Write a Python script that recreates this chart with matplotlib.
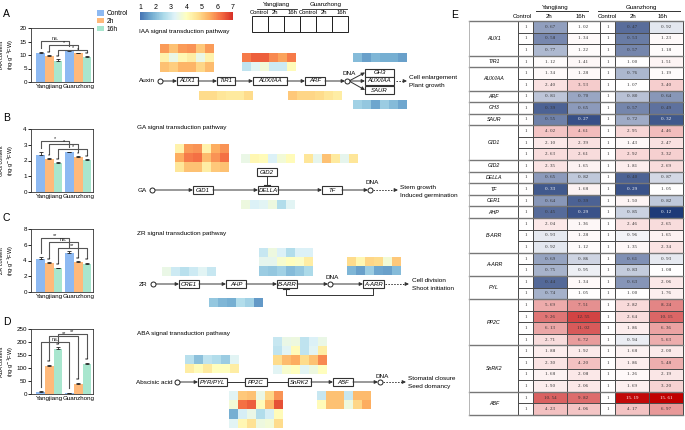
import numpy as np
import matplotlib.pyplot as plt
from matplotlib.colors import LinearSegmentedColormap, TwoSlopeNorm, Normalize
from matplotlib.patches import Rectangle
import matplotlib.cm as cm

plt.rcParams['font.family'] = ['Liberation Sans', 'DejaVu Sans']

# ---------------- bar chart data (A-D) ----------------
groups = ['Yangjiang', 'Guanzhong']
treat = ['Control', '2h', '16h']
iaa_vals = [10.8, 9.5, 7.9, 11.4, 10.6, 9.3]
iaa_err = [0.3, 0.4, 0.6, 0.4, 0.3, 0.3]
ga_vals = [2.38, 2.08, 1.83, 2.53, 2.24, 2.03]
ga_err = [0.15, 0.08, 0.08, 0.04, 0.04, 0.06]
zr_vals = [4.25, 3.7, 3.0, 4.95, 3.8, 3.6]
zr_err = [0.2, 0.1, 0.1, 0.25, 0.12, 0.12]
aba_vals = [8, 107, 175, 4, 40, 115]
aba_err = [2, 6, 4, 1, 3, 5]
iaa_stars = ['', '**', '**', '', '*', '**']
ga_stars = ['', '*', '**', '', '*', '**']
zr_stars = ['', '**', '**', '', '**', '**']
aba_stars = ['', '**', '**', '', '**', '**']
# brackets: (bar i, bar j, height, label)
iaa_brk = [(0, 3, 15.3, 'ns.'), (1, 4, 13.7, '*'), (2, 5, 12.0, '*')]
ga_brk = [(0, 3, 3.25, '*'), (1, 4, 3.03, '*'), (2, 5, 2.75, '*')]
zr_brk = [(0, 3, 6.8, '**'), (1, 4, 6.3, 'ns.'), (2, 5, 5.6, '**')]
aba_brk = [(0, 3, 200, 'ns.'), (1, 4, 222, '**'), (2, 5, 232, '**')]

# ---------------- pathway heatmap data (scale 1-7) ----------------
hm_aux1 = [[5.7, 5.2, 5.7, 5.8, 5.1, 5.7], [4.3, 3.5, 4.2, 4.4, 3.5, 4.3], [5.2, 5.0, 5.4, 5.4, 4.9, 5.3]]
hm_tir1 = [[4.8, 4.8, 4.6, 4.5, 4.5, 4.8]]
hm_auxiaa = [[6.1, 6.4, 6.4, 5.9, 5.6, 6.1], [2.8, 3.3, 3.7, 3.0, 3.0, 4.1]]
hm_arf = [[5.1, 4.9, 4.9, 4.8, 4.6, 4.4]]
hm_gh3 = [[2.0, 1.6, 1.9, 1.8, 1.8, 1.6]]
hm_saur = [[2.4, 2.2, 1.7, 2.3, 2.0, 1.7]]
hm_gid1 = [[4.3, 5.7, 5.8, 4.3, 5.5, 5.8], [5.5, 6.1, 6.2, 5.3, 5.8, 6.2], [4.6, 5.2, 5.2, 4.4, 5.1, 5.2]]
hm_gid2 = [[3.5, 4.2, 4.1, 3.2, 3.7, 4.1]]
hm_tf = [[4.6, 3.4, 5.2, 4.5, 3.4, 4.6]]
hm_della = [[3.6, 3.2, 3.3, 3.6, 2.6, 3.3]]
hm_cre1 = [[3.5, 3.0, 2.7, 3.0, 3.3, 2.9]]
hm_barr = [[2.9, 3.6, 3.2, 2.6, 3.2, 3.2], [3.4, 3.4, 3.8, 4.0, 3.9, 4.4], [2.3, 2.2, 2.4, 2.0, 2.2, 2.5]]
hm_aarr = [[4.8, 4.2, 4.9, 4.8, 3.7, 5.1], [1.9, 1.6, 2.3, 1.7, 1.6, 2.0]]
hm_ahp = [[2.2, 1.9, 1.8, 2.6, 2.4, 1.5]]
hm_pyl = [[2.7, 2.1, 2.8, 2.6, 2.3, 3.3], [4.4, 4.1, 4.5, 4.0, 4.0, 4.4]]
hm_snrk2 = [[2.9, 3.5, 3.6, 2.8, 3.2, 3.5], [2.8, 3.3, 4.1, 2.8, 3.3, 4.4],
            [4.8, 5.3, 5.5, 4.8, 5.2, 5.9], [3.3, 3.8, 4.0, 3.3, 3.6, 4.0]]
hm_pp2c = [[3.3, 5.1, 5.2, 3.5, 4.9, 5.8], [3.7, 6.2, 6.4, 4.1, 5.4, 6.6],
           [1.8, 3.1, 3.5, 2.6, 3.1, 4.1], [3.3, 4.2, 4.7, 3.6, 3.7, 4.8]]
hm_abf = [[2.9, 5.2, 5.2, 2.9, 5.3, 5.3], [4.1, 5.2, 5.2, 3.6, 4.9, 5.5]]

# ---------------- table data (E), fold change ----------------
t_aux1 = [[1, 0.67, 1.02, 1, 0.47, 0.92], [1, 0.58, 1.34, 1, 0.53, 1.23], [1, 0.77, 1.22, 1, 0.57, 1.18]]
t_tir1 = [[1, 1.12, 1.41, 1, 1.00, 1.51]]
t_auxiaa = [[1, 1.34, 1.28, 1, 0.76, 1.19], [1, 2.40, 3.53, 1, 1.07, 3.40]]
t_arf = [[1, 0.81, 0.70, 1, 0.80, 0.64]]
t_gh3 = [[1, 0.39, 0.65, 1, 0.57, 0.49]]
t_saur = [[1, 0.55, 0.27, 1, 0.72, 0.32]]
t_gid1 = [[1, 4.02, 4.61, 1, 2.95, 4.46], [1, 2.10, 2.39, 1, 1.43, 2.47], [1, 2.63, 2.61, 1, 2.92, 3.32]]
t_gid2 = [[1, 2.35, 1.65, 1, 1.81, 2.69]]
t_della = [[1, 0.65, 0.82, 1, 0.40, 0.87]]
t_tf = [[1, 0.33, 1.68, 1, 0.29, 1.05]]
t_cer1 = [[1, 0.64, 0.39, 1, 1.50, 0.82]]
t_ahp = [[1, 0.45, 0.29, 1, 0.85, 0.12]]
t_barr = [[1, 2.04, 1.36, 1, 2.46, 2.65], [1, 0.93, 1.28, 1, 0.96, 1.65], [1, 0.92, 1.12, 1, 1.35, 2.34]]
t_aarr = [[1, 0.69, 0.86, 1, 0.61, 0.93], [1, 0.75, 0.95, 1, 0.83, 1.08]]
t_pyl = [[1, 0.44, 1.34, 1, 0.63, 2.06], [1, 0.74, 1.05, 1, 1.00, 1.76]]
t_pp2c = [[1, 5.69, 7.51, 1, 2.82, 8.24], [1, 9.26, 12.55, 1, 2.64, 10.15],
          [1, 6.13, 11.02, 1, 1.86, 6.36], [1, 2.71, 6.72, 1, 0.94, 5.63]]
t_snrk2 = [[1, 1.88, 1.92, 1, 1.68, 2.00], [1, 2.30, 4.20, 1, 1.86, 5.48],
           [1, 1.68, 2.08, 1, 1.26, 2.19], [1, 1.90, 2.06, 1, 1.69, 3.20]]
t_abf = [[1, 10.54, 9.82, 1, 15.19, 15.61], [1, 4.23, 4.06, 1, 4.17, 6.97]]
table_genes = [('AUX1', t_aux1), ('TIR1', t_tir1), ('AUX/IAA', t_auxiaa), ('ARF', t_arf),
               ('GH3', t_gh3), ('SAUR', t_saur), ('GID1', t_gid1), ('GID2', t_gid2),
               ('DELLA', t_della), ('TF', t_tf), ('CER1', t_cer1), ('AHP', t_ahp),
               ('B-ARR', t_barr), ('A-ARR', t_aarr), ('PYL', t_pyl), ('PP2C', t_pp2c),
               ('SnRK2', t_snrk2), ('ABF', t_abf)]

W, H = 685, 430
fig = plt.figure(figsize=(6.85, 4.3), dpi=100)
bg = fig.add_axes([0, 0, 1, 1])
bg.set_xlim(0, W)
bg.set_ylim(H, 0)
bg.axis('off')

c_bars = ['#8DB9F2', '#FFB97A', '#A8E6CE']
base = plt.get_cmap('RdYlBu_r')
hcmap = LinearSegmentedColormap.from_list('hm', base(np.linspace(0.1, 0.9, 256)))


def px_axes(x0, y0, x1, y1):
    return fig.add_axes([x0 / W, 1 - y1 / H, (x1 - x0) / W, (y1 - y0) / H])


def bar_panel(box, vals, errs, ymax, step, ylab, stars, brks, legend=False):
    ax = px_axes(*box)
    pos = [0, 1, 2, 3.3, 4.3, 5.3]
    zero = [0] * 6
    bars = ax.bar(pos, vals, width=1, color=c_bars * 2, yerr=[zero, errs],
                  error_kw=dict(elinewidth=0.6, capsize=1.5, capthick=0.6, ecolor='#222'))
    for p, v, e, s in zip(pos, vals, errs, stars):
        if s:
            ax.text(p, v + e + ymax * 0.005, s, ha='center', va='bottom', fontsize=4, color='#222')
    for i, j, y, lab in brks:
        li = vals[i] + errs[i] + ymax * 0.07
        lj = vals[j] + errs[j] + ymax * 0.07
        ax.plot([pos[i], pos[i], pos[j], pos[j]], [li, y, y, lj], color='#555', lw=0.8)
        ax.text((pos[i] + pos[j]) / 2, y, lab, ha='center', va='bottom', fontsize=4, color='#222')
    ax.set_xlim(-1.1, 6.0)
    ax.set_ylim(0, ymax)
    ax.set_yticks(np.arange(0, ymax + step / 2, step))
    ax.set_xticks([1, 4.3])
    ax.set_xticklabels(groups)
    ax.tick_params(labelsize=4.5, length=2, width=0.6, pad=1)
    ax.tick_params(axis='x', length=0, pad=1.5)
    for sp in ax.spines.values():
        sp.set_linewidth(0.6)
        sp.set_color('#333')
    ax.set_ylabel(ylab, fontsize=4.0, linespacing=1.1)
    ax.yaxis.set_label_coords(-0.25, 0.5)
    if legend:
        ax.legend(bars[:3], treat, loc='upper left', bbox_to_anchor=(1.02, 1.38), frameon=False,
                  fontsize=4.8, handlelength=1.0, handleheight=0.9, labelspacing=0.1,
                  handletextpad=0.4, borderaxespad=0)
    return ax


bar_panel((31, 28, 93, 82), iaa_vals, iaa_err, 20, 5, 'IAA content\n(ng·g$^{-1}$FW)', iaa_stars, iaa_brk, True)
bar_panel((31, 129, 93, 192), ga_vals, ga_err, 4, 1, 'GA3 content\n(ng·g$^{-1}$FW)', ga_stars, ga_brk)
bar_panel((31, 229, 93, 292), zr_vals, zr_err, 8, 2, 'ZR content\n(ng·g$^{-1}$FW)', zr_stars, zr_brk)
bar_panel((31, 329, 93, 394), aba_vals, aba_err, 250, 50, 'ABA content\n(ng·g$^{-1}$FW)', aba_stars, aba_brk)

for lab, x, y in [('A', 3, 14), ('B', 3, 118), ('C', 3, 218), ('D', 3, 322), ('E', 451, 15)]:
    bg.text(x, y, lab, fontsize=7.5, ha='left', va='center')

# ---------------- colour bar + sample grid ----------------
cax = px_axes(140, 12, 233, 20)
cb = fig.colorbar(cm.ScalarMappable(norm=Normalize(1, 7), cmap=hcmap), cax=cax, orientation='horizontal')
cb.set_ticks(range(1, 8))
cb.outline.set_visible(False)
cax.xaxis.set_ticks_position('top')
cax.tick_params(labelsize=5, length=0, pad=1)

for k in range(6):
    bg.add_patch(Rectangle((252 + 16 * k, 16), 16, 16, fill=False, lw=0.7, ec='#222'))
bg.text(276, 4.5, 'Yangjiang', fontsize=4.5, ha='center', va='center')
bg.text(326, 4.5, 'Guanzhong', fontsize=4.5, ha='center', va='center')
bg.plot([257, 297], [8.5, 8.5], color='#222', lw=0.6)
bg.plot([302, 347], [8.5, 8.5], color='#222', lw=0.6)
for x, t in zip([259, 275, 292, 308, 324, 341], treat * 2):
    bg.text(x, 13, t, fontsize=4.2, ha='center', va='center')


# ---------------- pathway helpers ----------------
LC = '#333333'


def heat(x0, y0, data, cw=9, ch=9.2):
    d = np.array(data)
    nr, nc = d.shape
    bg.pcolormesh(x0 + cw * np.arange(nc + 1), y0 + ch * np.arange(nr + 1), d,
                  cmap=hcmap, vmin=1, vmax=7, shading='flat')


def gbox(x0, x1, y, label, h=8):
    bg.add_patch(Rectangle((x0, y - h / 2), x1 - x0, h, fill=True, fc='white', lw=0.8, ec='#333', zorder=3))
    bg.text((x0 + x1) / 2, y, label, ha='center', va='center', fontsize=4.3, style='italic', zorder=4)


def arrow(x0, y0, x1, y1):
    bg.annotate('', xy=(x1, y1), xytext=(x0, y0),
                arrowprops=dict(arrowstyle='-|>', lw=0.7, color=LC, shrinkA=0, shrinkB=0, mutation_scale=5))


def dotted(x0, x1, y):
    bg.plot([x0, x1 - 3], [y, y], color=LC, lw=0.7, ls=(0, (1.5, 1.5)))
    arrow(x1 - 3, y, x1, y)


def inhib(x0, x1, y):
    bg.plot([x0, x1], [y, y], color=LC, lw=0.7)
    bg.plot([x1, x1], [y - 2.5, y + 2.5], color=LC, lw=0.8)


def circ(x, y):
    bg.plot(x, y, 'o', ms=3.6, mfc='white', mec='#222', mew=0.7, zorder=5)


def label(x, y, s, ha='left'):
    bg.text(x, y, s, fontsize=4.6, ha=ha, va='center')


# ---------------- IAA ----------------
label(139, 31, 'IAA signal transduction pathway')
y = 81
heat(160, 44, hm_aux1)
heat(199, 91, hm_tir1)
heat(242, 53, hm_auxiaa)
heat(288, 91, hm_arf)
heat(353, 53, hm_gh3)
heat(353, 100, hm_saur)
label(139, y, 'Auxin')
circ(160, y)
arrow(162, y, 177, y)
gbox(177, 198, y, 'AUX1')
arrow(198, y, 217, y)
gbox(217, 235, y, 'TIR1')
arrow(235, y, 253, y)
gbox(253, 287, y, 'AUX/IAA')
arrow(287, y, 305, y)
gbox(305, 325, y, 'ARF')
arrow(325, y, 345, y)
circ(347, y)
label(343, 73.5, 'DNA')
arrow(349, y, 365, 72.5)
arrow(349, y, 365, y)
arrow(349, y, 365, 90)
gbox(365, 394, 72.5, 'GH3')
gbox(365, 394, y, 'AUX/IAA')
gbox(365, 394, 90, 'SAUR')
dotted(396, 407, y)
label(409, 78, 'Cell enlargement')
label(409, 86, 'Plant growth')

# ---------------- GA ----------------
label(137, 127, 'GA signal transduction pathway')
y = 190
heat(175, 144, hm_gid1)
heat(241, 154, hm_gid2)
heat(304, 154, hm_tf)
heat(241, 200, hm_della)
label(138, y, 'GA')
circ(152, y)
arrow(154, y, 193, y)
gbox(193, 213, y, 'GID1')
arrow(213, y, 258, y)
gbox(258, 278, y, 'DELLA')
gbox(257, 277, 172, 'GID2')
bg.plot([267, 267], [176, 185], color=LC, lw=0.7)
bg.plot([264, 270], [185, 185], color=LC, lw=0.8)
arrow(278, y, 322, y)
gbox(322, 342, y, 'TF')
arrow(342, y, 368, y)
circ(370, y)
label(366, 183, 'DNA')
dotted(373, 398, y)
label(400, 187, 'Stem growth')
label(400, 195, 'Induced germination')

# ---------------- ZR ----------------
label(137, 234, 'ZR signal transduction pathway')
y = 284
heat(162, 267, hm_cre1)
heat(259, 248, hm_barr)
heat(347, 257, hm_aarr)
heat(209, 298, hm_ahp)
label(139, y, 'ZR')
circ(153, y)
arrow(155, y, 179, y)
gbox(179, 199, y, 'CRE1')
arrow(199, y, 226, y)
gbox(226, 246, y, 'AHP')
arrow(246, y, 277, y)
gbox(277, 297, y, 'B-ARR')
arrow(297, y, 328, y)
circ(330, y)
label(326, 277.5, 'DNA')
arrow(332, y, 363, y)
gbox(363, 384, y, 'A-ARR')
bg.plot([373, 373, 286, 286], [288, 295, 295, 289], color=LC, lw=0.7)
bg.plot([283, 289], [289, 289], color=LC, lw=0.8)
dotted(385, 409, y)
label(412, 281, 'Cell division')
label(412, 289, 'Shoot initiation')

# ---------------- ABA ----------------
label(137, 333, 'ABA signal transduction pathway')
y = 382
heat(185, 355, hm_pyl)
heat(273, 337, hm_snrk2)
heat(229, 391, hm_pp2c)
heat(317, 391, hm_abf)
label(136, y, 'Abscisic acid')
circ(177, y)
arrow(179, y, 198, y)
gbox(198, 227, y, 'PYR/PYL')
inhib(227, 245, y)
gbox(245, 267, y, 'PP2C')
inhib(267, 288, y)
gbox(288, 311, y, 'SnRK2')
arrow(311, y, 333, y)
gbox(333, 353, y, 'ABF')
arrow(353, y, 378, y)
circ(380, y)
label(376, 376, 'DNA')
dotted(383, 406, y)
label(408, 378.5, 'Stomatal closure')
label(408, 386.5, 'Seed domancy')

# ---------------- table E ----------------
vals = np.vstack([np.array(r) for _, r in table_genes])
nrow = vals.shape[0]
top, bot = 21, 415
rh = (bot - top) / nrow
col_edges = np.array([518, 533, 567, 600, 615, 649, 683])
row_edges = top + rh * np.arange(nrow + 1)
tcmap = LinearSegmentedColormap.from_list('fc', [
    (0.0, '#1E3A78'), (0.2, '#5A6E9C'), (0.35, '#A3AFC9'), (0.5, '#FFFFFF'),
    (0.56, '#F8DADA'), (0.62, '#F2BDBD'), (0.72, '#E69393'), (0.82, '#DB6464'),
    (0.92, '#CF3A3A'), (1.0, '#C00000')])
tnorm = TwoSlopeNorm(vcenter=1, vmin=0.12, vmax=15.61)
bg.pcolormesh(col_edges, row_edges, vals, cmap=tcmap, norm=tnorm, edgecolors='#4d4d4d', linewidth=0.45)
cx = (col_edges[:-1] + col_edges[1:]) / 2
for i in range(nrow):
    for j in range(6):
        v = vals[i, j]
        s = '1' if j in (0, 3) else ('%.2f' % v).replace('.', '. ')
        f = tnorm(v)
        col = 'white' if (f < 0.12 or f > 0.93) else '#333333'
        bg.text(cx[j], row_edges[i] + rh / 2, s, ha='center', va='center', fontsize=3.6,
                family='Liberation Serif', color=col)
r0 = 0
bg.plot([469, 683], [top, top], color='#777', lw=1.0)
for name, rows in table_genes:
    r1 = r0 + len(rows)
    bg.text(494, top + rh * (r0 + r1) / 2, name, ha='center', va='center', fontsize=3.8, style='italic')
    bg.plot([469, 683], [top + rh * r1, top + rh * r1], color='#777', lw=1.0)
    r0 = r1
bg.plot([469, 469], [top, bot], color='#aaa', lw=0.6)
bg.text(555, 7, 'Yangjiang', fontsize=4.4, ha='center', va='center')
bg.text(641, 7, 'Guanzhong', fontsize=4.4, ha='center', va='center')
bg.plot([536, 588], [10.5, 10.5], color='#333', lw=0.7)
bg.plot([598, 680], [10.5, 10.5], color='#333', lw=0.7)
for x, t in zip([522, 549, 581, 607, 633, 663], treat * 2):
    bg.text(x, 16, t, fontsize=4.3, ha='center', va='center')

fig.savefig('out.png', dpi=100)
